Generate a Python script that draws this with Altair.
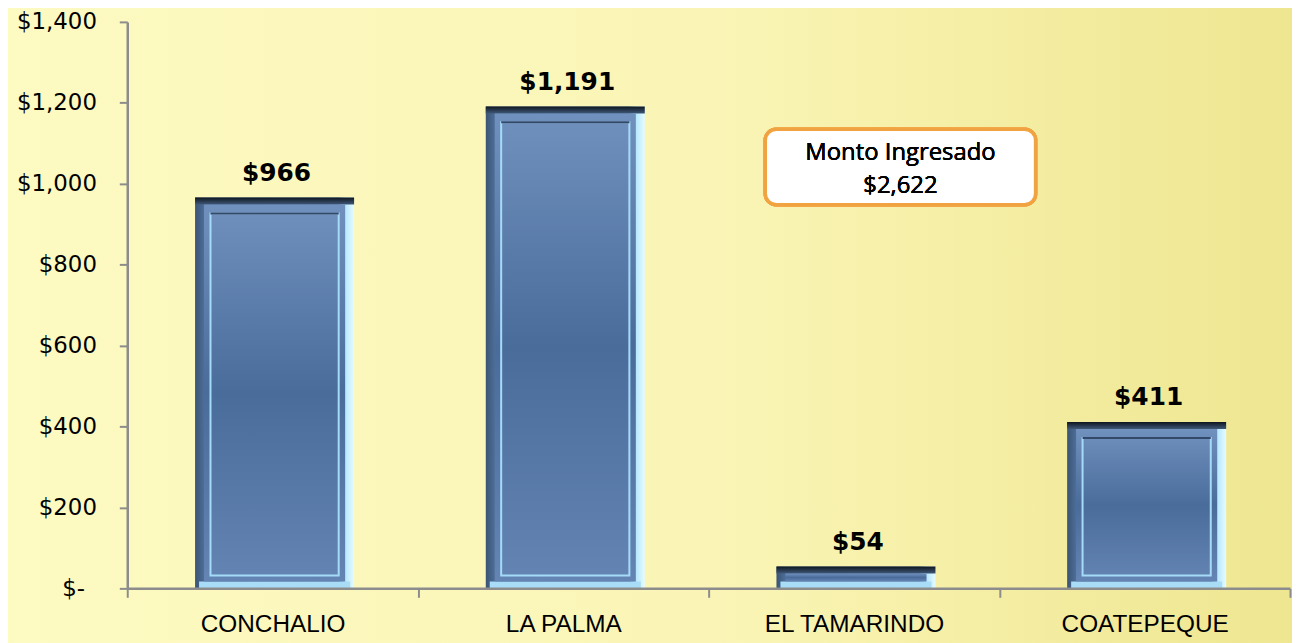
import altair as alt
import pandas as pd

categories = ["CONCHALIO", "LA PALMA", "EL TAMARINDO", "COATEPEQUE"]
values = [966, 1191, 54, 411]
y_ticks = [0, 200, 400, 600, 800, 1000, 1200, 1400]
box_title = "Monto Ingresado"
box_total = "$2,622"

df = pd.DataFrame({"cat": categories, "value": values})
df["label"] = ["$" + format(v, ",") for v in values]
df["zero"] = 0

W, H = 1170, 570
BAND = W / len(categories)

x_enc = alt.X(
    "cat:N", sort=categories, title=None,
    scale=alt.Scale(paddingInner=0, paddingOuter=0),
    axis=alt.Axis(
        tickBand="extent", labelAngle=0, labelFont="Liberation Sans",
        labelFontSize=24.5, labelColor="#000000", labelPadding=15, labelLimit=0,
        tickSize=9, tickWidth=2, tickColor="#8C8C8C",
        domainColor="#8C8C8C", domainWidth=2.5, zindex=1,
    ),
)
y_enc = alt.Y(
    "value:Q", title=None,
    scale=alt.Scale(domain=[0, 1400], nice=False, zero=True),
    axis=alt.Axis(
        values=y_ticks, grid=False, zindex=1,
        labelExpr="datum.value == 0 ? '$-' : '$' + format(datum.value, ',')",
        labelFont="DejaVu Sans", labelFontSize=23, labelColor="#000000",
        labelPadding={"condition": {"test": "datum.value == 0", "value": 35}, "value": 23},
        tickSize=8, tickWidth=2, tickColor="#8C8C8C",
        domainColor="#8C8C8C", domainWidth=2.5,
    ),
)
y_plain = alt.Y("value:Q", title=None)

base = alt.Chart(df)

# background (decoration covering the whole canvas)
bg = base.mark_rect(
    fill=alt.LinearGradient(
        gradient="linear", x1=0, x2=1, y1=0, y2=0,
        stops=[
            alt.GradientStop(offset=0, color="#FDFAC2"),
            alt.GradientStop(offset=0.55, color="#FAF5B6"),
            alt.GradientStop(offset=1, color="#EEE690"),
        ],
    )
).encode(
    x=alt.value(-125), x2=alt.value(W + 10),
    y=alt.value(-20), y2=alt.value(H + 70),
)

OUTER = 160
outer = base.mark_bar(
    width=alt.RelativeBandSize(OUTER / BAND), xOffset=2,
    fill=alt.LinearGradient(
        gradient="linear", x1=0, x2=1, y1=0, y2=0,
        stops=[
            alt.GradientStop(offset=0, color="#3A5474"),
            alt.GradientStop(offset=0.06, color="#4F6F9A"),
            alt.GradientStop(offset=0.9, color="#6487B4"),
            alt.GradientStop(offset=0.94, color="#B2E6FF"),
            alt.GradientStop(offset=1, color="#E6FBFF"),
        ],
    ),
).encode(x=x_enc, y=y_enc, y2="zero:Q")

top_strip = base.mark_bar(
    width=alt.RelativeBandSize(OUTER / BAND), xOffset=2,
    y2Offset=7,
    fill=alt.LinearGradient(
        gradient="linear", x1=0, x2=0, y1=0, y2=1,
        stops=[
            alt.GradientStop(offset=0, color="#0E161F"),
            alt.GradientStop(offset=1, color="#3F5878"),
        ],
    ),
).encode(x=x_enc, y=y_plain, y2="value:Q")

bottom_strip = base.mark_bar(
    width=alt.RelativeBandSize(152 / BAND), xOffset=2,
    yOffset=-7,
    fill="#A9DCF7",
).encode(x=x_enc, y=alt.Y("zero:Q", title=None), y2="zero:Q")

face = base.mark_bar(
    width=alt.RelativeBandSize(142 / BAND), xOffset=2,
    yOffset=7, y2Offset=-7,
    fill=alt.LinearGradient(
        gradient="linear", x1=0, x2=0, y1=0, y2=1,
        stops=[
            alt.GradientStop(offset=0, color="#7091BD"),
            alt.GradientStop(offset=0.5, color="#4A6C9B"),
            alt.GradientStop(offset=1, color="#6485B3"),
        ],
    ),
).encode(x=x_enc, y=y_plain, y2="zero:Q")

inner_line = base.transform_filter("datum.value > 100").mark_bar(
    width=alt.RelativeBandSize(129 / BAND), xOffset=2,
    yOffset=16, y2Offset=-13,
    fill=None, stroke="#A6DBF8", strokeWidth=2,
).encode(x=x_enc, y=y_plain, y2="zero:Q")

inner_top = base.transform_filter("datum.value > 100").mark_bar(
    width=alt.RelativeBandSize(129 / BAND), xOffset=2,
    yOffset=15, y2Offset=17,
    fill="#34496A",
).encode(x=x_enc, y=y_plain, y2="value:Q")

labels = base.mark_text(
    dy=-17, dx=4, baseline="alphabetic", align="center",
    font="DejaVu Sans", fontSize=25, fontWeight="bold", color="#000000",
).encode(x=x_enc, y=y_plain, text="label:N")

box = base.mark_rect(
    fill="#FFFFFF", stroke="#F2A341", strokeWidth=3.5, cornerRadius=11,
).encode(
    x=alt.value(642), x2=alt.value(914),
    y=alt.value(108), y2=alt.value(184),
)

box_text1 = base.mark_text(
    font="Open Sans", fontSize=24, color="#000000", align="center", baseline="middle",
).encode(x=alt.value(778), y=alt.value(132), text=alt.value(box_title))

box_text2 = base.mark_text(
    font="Open Sans", fontSize=24, color="#000000", align="center", baseline="middle",
).encode(x=alt.value(778), y=alt.value(165), text=alt.value(box_total))

chart = alt.layer(
    bg, outer, top_strip, bottom_strip, face, inner_line, inner_top, labels,
    box, box_text1, box_text2,
).properties(
    width=W, height=H,
    autosize=alt.AutoSizeParams(type="none"),
    padding={"left": 120, "top": 12, "right": 2, "bottom": 53},
    background="#F9F4B4",
).configure_view(stroke=None)

chart.save("out.html", embed_options={"renderer": "svg", "actions": False})
